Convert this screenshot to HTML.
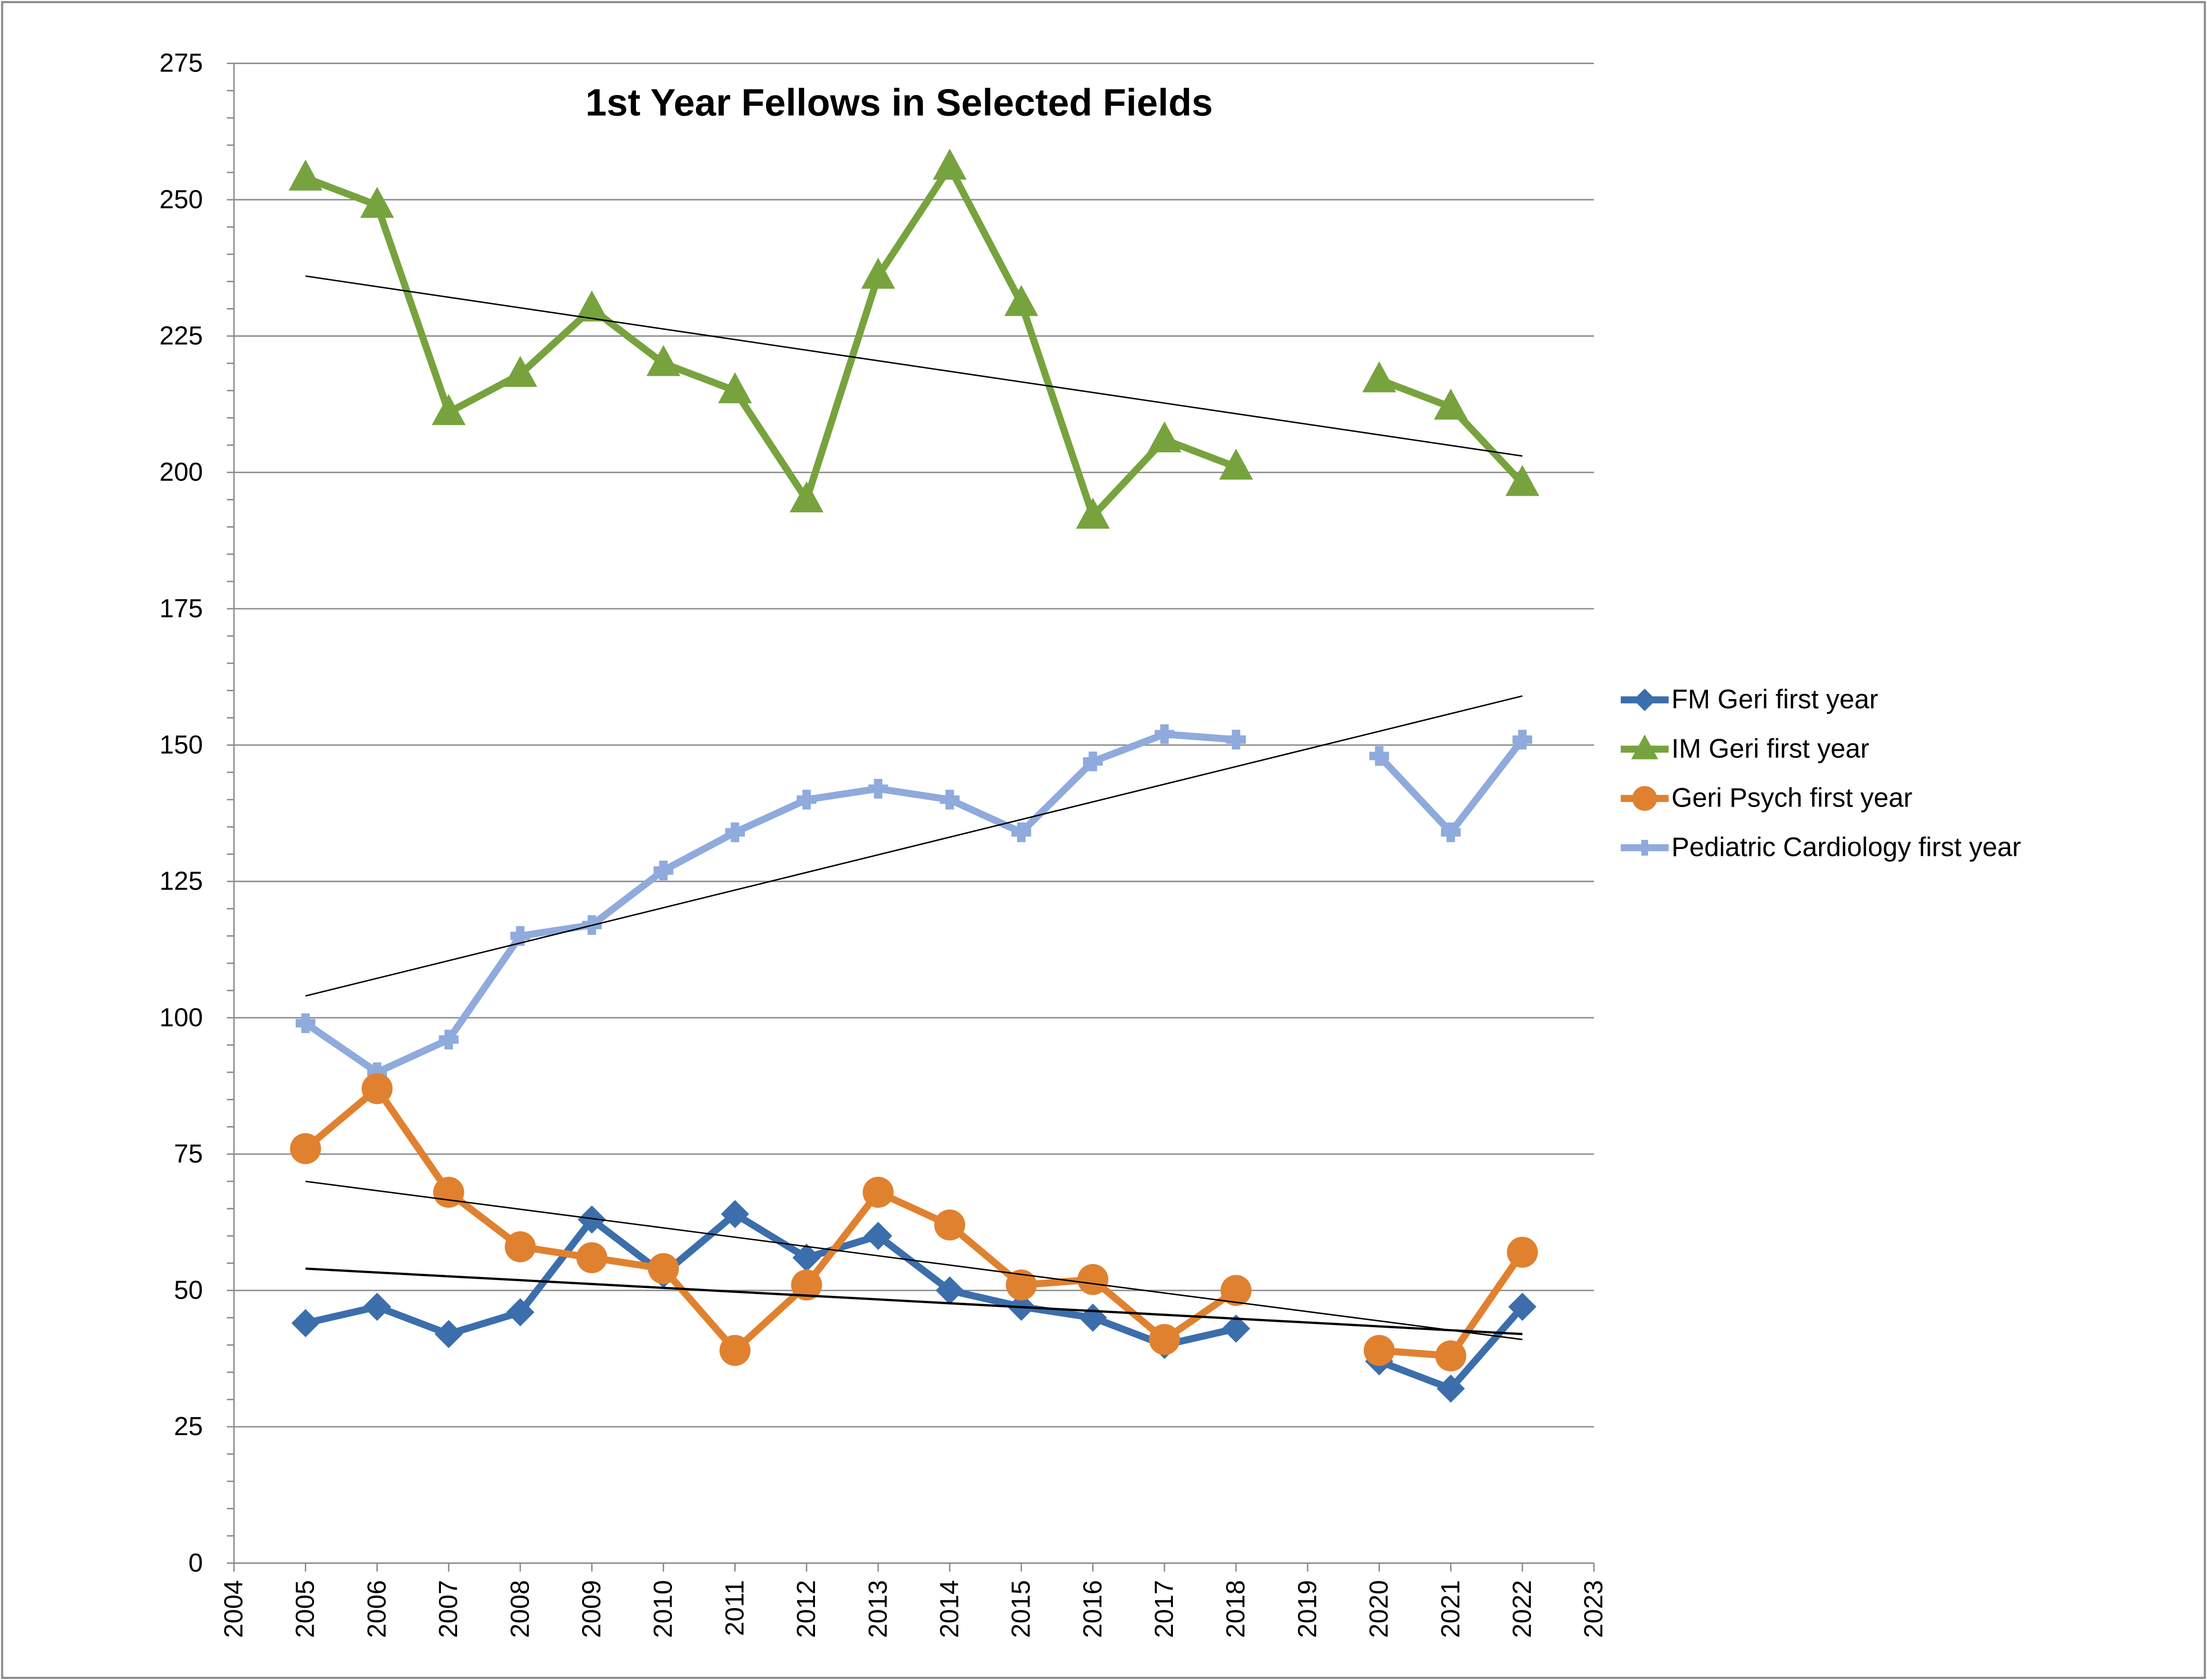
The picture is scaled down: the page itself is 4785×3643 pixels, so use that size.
<!DOCTYPE html>
<html><head><meta charset="utf-8"><style>
html,body{margin:0;padding:0;background:#fff;}
svg{display:block;}
text{font-family:"Liberation Sans",Arial,sans-serif;fill:#000;}
</style></head><body>
<svg id="c" width="4785" height="3643" viewBox="0 0 1566 1193" preserveAspectRatio="none" xmlns="http://www.w3.org/2000/svg">
<rect x="1.5" y="1.5" width="1563" height="1190" fill="#fff" stroke="#8c8c8c" stroke-width="1.5"/>
<text x="638" y="82" font-size="27" font-weight="bold" text-anchor="middle">1st Year Fellows in Selected Fields</text>
<g id="g"></g>
</svg>
<script>
var NS="http://www.w3.org/2000/svg",g=document.getElementById('g');
function el(n,a,t){var e=document.createElementNS(NS,n);for(var k in a)e.setAttribute(k,a[k]);if(t!==undefined)e.textContent=t;g.appendChild(e);return e;}
var X0=166,X1=1131,Y0=1110,Y1=45;
function X(yr){return X0+(yr-2004)*(X1-X0)/19;}
function Y(v){return Y0-v*(Y0-Y1)/275;}
for(var v=0;v<=275;v+=25){el('line',{x1:X0,x2:X1,y1:Y(v),y2:Y(v),stroke:'#8c8c8c','stroke-width':1});
el('text',{x:X0-22,y:Y(v)+6,'font-size':18.5,'text-anchor':'end'},v);}
for(var v=0;v<=275;v+=5){el('line',{x1:X0-5,x2:X0,y1:Y(v),y2:Y(v),stroke:'#8c8c8c','stroke-width':1});}
el('line',{x1:X0,x2:X0,y1:Y1,y2:Y0,stroke:'#8c8c8c','stroke-width':1});
for(var yr=2004;yr<=2023;yr++){var x=X(yr);el('line',{x1:x,x2:x,y1:Y0,y2:Y0+6,stroke:'#8c8c8c','stroke-width':1});
el('text',{x:0,y:0,'font-size':18.5,'text-anchor':'end',transform:'translate('+(x+6)+','+(Y0+12)+') rotate(-90)'},yr);}
var yrs=[2005,2006,2007,2008,2009,2010,2011,2012,2013,2014,2015,2016,2017,2018,2020,2021,2022];
var S=[
{n:'Pediatric Cardiology first year',c:'#8faadc',d:[99,90,96,115,117,127,134,140,142,140,134,147,152,151,148,134,151],m:'plus',t:[104,159]},
{n:'IM Geri first year',c:'#77a33e',d:[254,249,211,218,230,220,215,195,236,256,231,192,206,201,217,212,198],m:'tri',t:[236,203]},
{n:'FM Geri first year',c:'#3c6eac',d:[44,47,42,46,63,53,64,56,60,50,47,45,40,43,37,32,47],m:'dia',t:[54,42]},
{n:'Geri Psych first year',c:'#e0812f',d:[76,87,68,58,56,54,39,51,68,62,51,52,41,50,39,38,57],m:'circ',t:[70,41]}
];
function mark(m,x,y,c,s){s=s||1;
if(m=='tri')el('polygon',{points:[x,y-13*s,x+12*s,y+9*s,x-12*s,y+9*s].join(' '),fill:c});
else if(m=='dia')el('polygon',{points:[x,y-10*s,x+10*s,y,x,y+10*s,x-10*s,y].join(' '),fill:c});
else if(m=='circ')el('circle',{cx:x,cy:y,r:11*s,fill:c});
else{el('rect',{x:x-7*s,y:y-3*s,width:14*s,height:6*s,fill:c});el('rect',{x:x-3*s,y:y-7*s,width:6*s,height:14*s,fill:c});}}
S.forEach(function(s){
var p1=[],p2=[];
for(var i=0;i<yrs.length;i++){var pt=X(yrs[i])+','+Y(s.d[i]);(yrs[i]<2019?p1:p2).push(pt);}
[p1,p2].forEach(function(p){el('polyline',{points:p.join(' '),fill:'none',stroke:s.c,'stroke-width':5,'stroke-linejoin':'round'});});
for(var i=0;i<yrs.length;i++)mark(s.m,X(yrs[i]),Y(s.d[i]),s.c);
});
S.forEach(function(s){el('line',{x1:X(2005),y1:Y(s.t[0]),x2:X(2022),y2:Y(s.t[1]),stroke:'#000','stroke-width':s.m=='dia'?1.6:1});});
var L=[S[2],S[1],S[3],S[0]];
L.forEach(function(s,i){var y=497+35*i;
el('line',{x1:1150,x2:1184,y1:y,y2:y,stroke:s.c,'stroke-width':5});
mark(s.m,1167,y,s.c,0.8);
el('text',{x:1186,y:y+6,'font-size':19},s.n);});
</script>
</body></html>
